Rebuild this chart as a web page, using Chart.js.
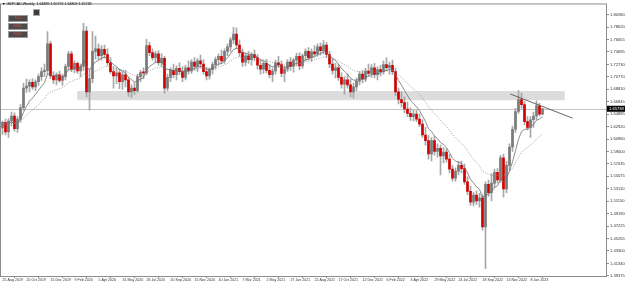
<!DOCTYPE html>
<html>
<head>
<meta charset="utf-8">
<script src="https://cdn.jsdelivr.net/npm/chart.js@4.4.1/dist/chart.umd.min.js"></script>
<style>
  html, body { margin: 0; padding: 0; background: #fff; }
  #wrap { position: relative; width: 625px; height: 284px; overflow: hidden; }
  #c { position: absolute; left: 0; top: 0; }
  .hdr { position: absolute; left: 2px; top: 2px; font: 3.6px "Liberation Sans", Arial, sans-serif; color: #000; white-space: nowrap; }
  .btn { position: absolute; left: 8px; width: 18px; height: 5px; background: #4a4a4a; border: 1px solid #9a9a9a;
         color: #e04040; font: 3px "Liberation Sans", Arial, sans-serif; text-align: center; line-height: 5px; }
  .ico { position: absolute; left: 33px; top: 9px; width: 5px; height: 5px; background: #3c3c3c; border: 1px solid #aaa; }
</style>
</head>
<body>
<div id="wrap">
  <canvas id="c" width="625" height="284"></canvas>
  <div class="hdr">▼ GBPCAD,Weekly&nbsp; 1.64889 1.65792 1.64809 1.65738</div>
  <div class="ico"></div>
  <div class="btn" style="top:15px">Pivot</div>
  <div class="btn" style="top:23px">EMA-1</div>
  <div class="btn" style="top:31px">EMA-2</div>
</div>
<script>
// weekly candles, 25 Aug 2019 .. 12 Feb 2023
const open = [
  1.627,1.636,1.621,1.638,1.646,1.626,1.641,1.659,1.690,1.693,
  1.699,1.692,1.700,1.708,1.716,1.718,1.760,1.709,1.703,1.711,
  1.702,1.708,1.724,1.744,1.720,1.729,1.717,1.724,1.780,1.684,
  1.705,1.748,1.752,1.741,1.751,1.743,1.730,1.716,1.709,1.714,
  1.700,1.711,1.703,1.684,1.690,1.686,1.708,1.715,1.714,1.757,
  1.746,1.738,1.744,1.730,1.737,1.690,1.707,1.718,1.711,1.721,
  1.716,1.707,1.722,1.717,1.731,1.724,1.733,1.728,1.716,1.709,
  1.719,1.727,1.735,1.740,1.733,1.748,1.755,1.766,1.775,1.758,
  1.746,1.731,1.741,1.735,1.743,1.738,1.726,1.720,1.729,1.718,
  1.711,1.717,1.730,1.727,1.713,1.720,1.731,1.724,1.734,1.740,
  1.725,1.741,1.748,1.738,1.747,1.744,1.755,1.749,1.758,1.743,
  1.728,1.718,1.722,1.707,1.696,1.703,1.695,1.684,1.692,1.701,
  1.712,1.704,1.717,1.713,1.722,1.711,1.719,1.716,1.727,1.722,
  1.726,1.716,1.684,1.672,1.667,1.657,1.650,1.645,1.649,1.641,
  1.633,1.616,1.607,1.586,1.607,1.590,1.595,1.583,1.589,1.578,
  1.562,1.548,1.559,1.568,1.563,1.542,1.527,1.510,1.521,1.512,
  1.517,1.471,1.538,1.525,1.540,1.557,1.545,1.580,1.531,1.568,
  1.597,1.625,1.653,1.672,1.664,1.637,1.628,1.640,1.646,1.662,
  1.64889
];
const high = [
  1.638,1.641,1.642,1.652,1.651,1.645,1.664,1.698,1.704,1.703,
  1.705,1.703,1.712,1.722,1.728,1.779,1.764,1.716,1.714,1.717,
  1.712,1.728,1.748,1.748,1.733,1.731,1.728,1.792,1.787,1.720,
  1.779,1.772,1.760,1.757,1.758,1.752,1.738,1.724,1.722,1.720,
  1.716,1.718,1.707,1.695,1.699,1.712,1.718,1.722,1.767,1.762,
  1.752,1.748,1.749,1.744,1.740,1.712,1.722,1.728,1.725,1.730,
  1.724,1.726,1.733,1.735,1.738,1.737,1.742,1.735,1.723,1.722,
  1.731,1.739,1.744,1.750,1.752,1.760,1.770,1.786,1.785,1.766,
  1.752,1.745,1.748,1.746,1.750,1.743,1.734,1.732,1.735,1.727,
  1.722,1.734,1.740,1.733,1.725,1.735,1.738,1.737,1.745,1.746,
  1.744,1.752,1.754,1.752,1.757,1.760,1.761,1.765,1.762,1.748,
  1.736,1.729,1.727,1.714,1.708,1.712,1.704,1.698,1.706,1.716,
  1.718,1.721,1.728,1.727,1.729,1.724,1.726,1.733,1.738,1.731,
  1.734,1.721,1.690,1.684,1.676,1.668,1.659,1.656,1.655,1.649,
  1.640,1.628,1.615,1.612,1.614,1.602,1.600,1.596,1.594,1.585,
  1.568,1.564,1.574,1.575,1.570,1.550,1.535,1.525,1.528,1.524,
  1.522,1.542,1.545,1.555,1.562,1.563,1.584,1.586,1.575,1.602,
  1.630,1.658,1.686,1.682,1.669,1.645,1.645,1.652,1.670,1.666,
  1.65792
];
const low = [
  1.617,1.616,1.612,1.630,1.622,1.620,1.636,1.655,1.683,1.684,
  1.688,1.686,1.694,1.702,1.708,1.712,1.705,1.697,1.695,1.699,
  1.694,1.703,1.719,1.716,1.714,1.713,1.708,1.718,1.676,1.655,
  1.698,1.736,1.735,1.734,1.737,1.726,1.713,1.690,1.697,1.689,
  1.688,1.692,1.677,1.675,1.680,1.683,1.700,1.705,1.711,1.741,
  1.734,1.730,1.726,1.724,1.682,1.686,1.700,1.706,1.703,1.711,
  1.700,1.703,1.712,1.713,1.718,1.716,1.722,1.712,1.703,1.704,
  1.712,1.720,1.726,1.728,1.729,1.741,1.748,1.760,1.752,1.740,
  1.724,1.725,1.729,1.726,1.733,1.720,1.712,1.713,1.714,1.706,
  1.700,1.712,1.722,1.708,1.700,1.716,1.718,1.715,1.725,1.719,
  1.721,1.733,1.734,1.732,1.739,1.740,1.742,1.744,1.738,1.722,
  1.712,1.706,1.702,1.690,1.680,1.690,1.676,1.674,1.686,1.695,
  1.698,1.700,1.708,1.707,1.706,1.703,1.709,1.712,1.717,1.712,
  1.711,1.678,1.665,1.660,1.651,1.645,1.639,1.638,1.637,1.629,
  1.612,1.600,1.578,1.575,1.584,1.581,1.553,1.572,1.573,1.556,
  1.543,1.543,1.553,1.556,1.538,1.522,1.505,1.504,1.506,1.502,
  1.466,1.405,1.519,1.512,1.533,1.540,1.541,1.518,1.525,1.560,
  1.590,1.620,1.650,1.658,1.632,1.624,1.612,1.628,1.640,1.646,
  1.64809
];
const close = [
  1.636,1.621,1.638,1.646,1.626,1.641,1.659,1.690,1.693,1.699,
  1.692,1.700,1.708,1.716,1.718,1.760,1.709,1.703,1.711,1.702,
  1.708,1.724,1.744,1.720,1.729,1.717,1.724,1.780,1.684,1.705,
  1.748,1.752,1.741,1.751,1.743,1.730,1.716,1.709,1.714,1.700,
  1.711,1.703,1.684,1.690,1.686,1.708,1.715,1.714,1.757,1.746,
  1.738,1.744,1.730,1.737,1.690,1.707,1.718,1.711,1.721,1.716,
  1.707,1.722,1.717,1.731,1.724,1.733,1.728,1.716,1.709,1.719,
  1.727,1.735,1.740,1.733,1.748,1.755,1.766,1.775,1.758,1.746,
  1.731,1.741,1.735,1.743,1.738,1.726,1.720,1.729,1.718,1.711,
  1.717,1.730,1.727,1.713,1.720,1.731,1.724,1.734,1.740,1.725,
  1.741,1.748,1.738,1.747,1.744,1.755,1.749,1.758,1.743,1.728,
  1.718,1.722,1.707,1.696,1.703,1.695,1.684,1.692,1.701,1.712,
  1.704,1.717,1.713,1.722,1.711,1.719,1.716,1.727,1.722,1.726,
  1.716,1.684,1.672,1.667,1.657,1.650,1.645,1.649,1.641,1.633,
  1.616,1.607,1.586,1.607,1.590,1.595,1.583,1.589,1.578,1.562,
  1.548,1.559,1.568,1.563,1.542,1.527,1.510,1.521,1.512,1.517,
  1.471,1.538,1.525,1.540,1.557,1.545,1.580,1.531,1.568,1.597,
  1.625,1.653,1.672,1.664,1.637,1.628,1.640,1.646,1.662,1.649,
  1.65738
];

// date labels every 8 weeks
const tickLabels = ['25 Aug 2019','20 Oct 2019','15 Dec 2019','9 Feb 2020','5 Apr 2020','31 May 2020',
  '26 Jul 2020','20 Sep 2020','15 Nov 2020','10 Jan 2021','7 Mar 2021','2 May 2021','27 Jun 2021',
  '22 Aug 2021','17 Oct 2021','12 Dec 2021','6 Feb 2022','3 Apr 2022','29 May 2022','24 Jul 2022',
  '18 Sep 2022','13 Nov 2022','8 Jan 2023'];
const priceTicks = [1.80580,1.78620,1.76655,1.74695,1.72730,1.70770,1.68810,1.66845,1.64885,1.62920,
  1.60960,1.59000,1.57035,1.55075,1.53110,1.51150,1.49190,1.47225,1.45265,1.43300,1.41340,1.39375];

// drawn objects: support zone and trend line
const zoneX = [24.9, 187.4];
const zoneY = [1.6708, 1.6854];
const trendX = [169.3, 190];
const trendY = [1.6806, 1.6426];

function ema(vals, n) {
  const k = 2 / (n + 1);
  let out = [], prev = vals[0];
  vals.forEach((v, i) => { prev = i ? v * k + prev * (1 - k) : v; out.push(prev); });
  return out;
}

const idx = close.map((_, i) => i);
const fast = ema(close, 8);
const slow = ema(close, 21);

const overlay = {
  id: 'overlay',
  beforeDatasetsDraw(chart) {
    const {ctx, chartArea: a, scales: {x, y}} = chart;
    ctx.save();
    ctx.fillStyle = '#dcdcdc';
    const x0 = x.getPixelForValue(zoneX[0]), x1 = x.getPixelForValue(zoneX[1]);
    const y0 = y.getPixelForValue(zoneY[1]), y1 = y.getPixelForValue(zoneY[0]);
    ctx.fillRect(x0, y0, x1 - x0, y1 - y0);
    const yb = Math.round(y.getPixelForValue(close[close.length - 1])) + 0.5;
    ctx.strokeStyle = '#c4c4c4';
    ctx.lineWidth = 1;
    ctx.beginPath(); ctx.moveTo(a.left, yb); ctx.lineTo(a.right, yb); ctx.stroke();
    ctx.restore();
  },
  afterDatasetsDraw(chart) {
    const {ctx, chartArea: a, scales: {x, y}} = chart;
    ctx.save();
    ctx.strokeStyle = '#555';
    ctx.lineWidth = 0.9;
    ctx.beginPath();
    ctx.moveTo(x.getPixelForValue(trendX[0]), y.getPixelForValue(trendY[0]));
    ctx.lineTo(x.getPixelForValue(trendX[1]), y.getPixelForValue(trendY[1]));
    ctx.stroke();
    ctx.strokeStyle = '#8c8c8c';
    ctx.lineWidth = 1;
    ctx.strokeRect(a.left + 0.5, a.top + 0.5, a.right - a.left - 1, a.bottom - a.top);
    // current price tag
    const yb = y.getPixelForValue(close[close.length - 1]);
    ctx.fillStyle = '#000';
    ctx.fillRect(a.right, yb - 3, 625 - a.right, 6);
    ctx.fillStyle = '#fff';
    ctx.font = '4.1px "Liberation Sans", Arial, sans-serif';
    ctx.textBaseline = 'middle';
    ctx.fillText(close[close.length - 1].toFixed(5), a.right + 2, yb + 0.3);
    ctx.restore();
  }
};

new Chart(document.getElementById('c'), {
  type: 'bar',
  data: {
    datasets: [
      { type: 'line', data: idx.map(i => ({x: i, y: fast[i]})), borderColor: '#6e6e6e', borderWidth: 0.8,
        pointRadius: 0, tension: 0 },
      { type: 'line', data: idx.map(i => ({x: i, y: slow[i]})), borderColor: '#8a8a8a', borderWidth: 0.8,
        borderDash: [1, 1.5], pointRadius: 0, tension: 0 },
      { data: idx.map(i => ({x: i, y: [open[i], close[i]]})), barThickness: 2, minBarLength: 1, grouped: false,
        backgroundColor: idx.map(i => close[i] >= open[i] ? '#7a7a7a' : '#d40000'), borderWidth: 0 },
      { data: idx.map(i => ({x: i, y: [low[i], high[i]]})), barThickness: 1, grouped: false,
        backgroundColor: '#a8a8a8', borderWidth: 0 }
    ]
  },
  options: {
    responsive: false,
    animation: false,
    events: [],
    layout: { padding: { top: 2, left: 0, right: 0, bottom: 0 } },
    plugins: { legend: { display: false }, tooltip: { enabled: false } },
    scales: {
      x: {
        type: 'linear', offset: false, min: -2.5 / 3, max: -2.5 / 3 + 607 / 3,
        afterBuildTicks: s => { s.ticks = tickLabels.map((_, k) => ({value: k * 8})); },
        afterFit: s => { s.height = 8; },
        ticks: { autoSkip: false, maxRotation: 0, align: 'start', padding: 0, color: '#333',
          font: { family: 'Liberation Sans', size: 3.6 },
          callback: v => tickLabels[v / 8] },
        grid: { drawOnChartArea: false, tickLength: 2, color: '#8c8c8c' },
        border: { display: false }
      },
      y: {
        position: 'right', min: 1.3935, max: 1.8235,
        afterBuildTicks: s => { s.ticks = priceTicks.map(v => ({value: v})); },
        afterFit: s => { s.width = 18; },
        ticks: { autoSkip: false, padding: 1, color: '#333',
          font: { family: 'Liberation Sans', size: 4.1 },
          callback: v => v.toFixed(5) },
        grid: { drawOnChartArea: false, tickLength: 2, color: '#8c8c8c' },
        border: { display: false }
      }
    }
  },
  plugins: [overlay]
});
</script>
</body>
</html>
